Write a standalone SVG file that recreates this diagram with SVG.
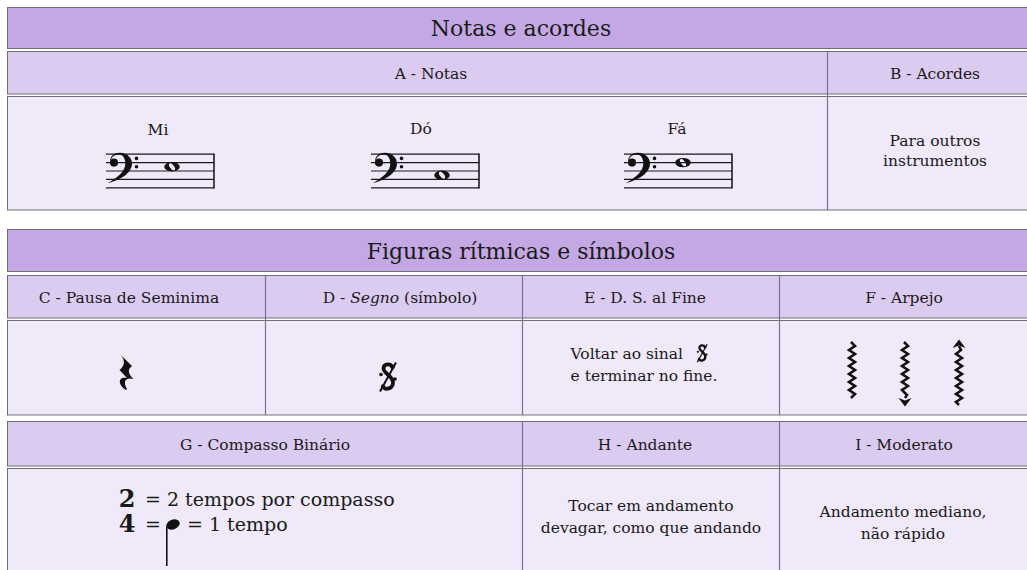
<svg xmlns="http://www.w3.org/2000/svg" width="1027" height="570" viewBox="0 0 1027 570">
<style>
  .hdr{fill:#c4a8e4;stroke:#6f6f78;stroke-width:1}
  .sub{fill:#dccbf0;stroke:#6f6f78;stroke-width:1}
  .cnt{fill:#efe9f9;stroke:#6f6f78;stroke-width:1}
  .div{stroke:#7e6f95;stroke-width:1.2}
  text{font-family:"DejaVu Serif","Liberation Serif",serif;fill:#1a1a1a}
  .t1{font-size:22px;text-anchor:middle}
  .t2{font-size:15.5px;text-anchor:middle}
  .t3{font-size:19px}
  .ts{font-size:24px;font-weight:bold;text-anchor:middle}
  .staff{stroke:#1a1a1a;stroke-width:1.2}
  .bar{stroke:#1a1a1a;stroke-width:1.6}
  .ink{fill:#111}
  .zig{fill:none;stroke:#111;stroke-width:2.6;stroke-linejoin:miter}
</style>
<defs>
  <g id="clef">
    <circle cx="7" cy="0" r="4.1" class="ink"/>
    <path class="ink" d="M3,-1 C3,-7 8,-10 13,-9.8 C20.5,-9.5 25,-4.5 25,1 C25,10.5 13.5,17.5 1,20.5 C10.5,15 18.3,9 18.3,1 C18.3,-5 15.5,-8.2 11.5,-8.2 C7,-8.2 4,-5 3,-1 Z"/>
    <circle cx="29.5" cy="-4.2" r="1.8" class="ink"/>
    <circle cx="29.5" cy="4.2" r="1.8" class="ink"/>
  </g>
  <g id="staff">
    <line class="staff" x1="0" y1="154.2" x2="108" y2="154.2"/>
    <line class="staff" x1="0" y1="162.6" x2="108" y2="162.6"/>
    <line class="staff" x1="0" y1="171" x2="108" y2="171"/>
    <line class="staff" x1="0" y1="179.4" x2="108" y2="179.4"/>
    <line class="staff" x1="0" y1="187.8" x2="108" y2="187.8"/>
    <line class="bar" x1="108" y1="153.6" x2="108" y2="188.4"/>
    <use href="#clef" x="1" y="162.6"/>
  </g>
  <path id="whole" class="ink" fill-rule="evenodd" d="M-7.8,0 A7.8,4.7 0 1,0 7.8,0 A7.8,4.7 0 1,0 -7.8,0 Z M1.15,-1.64 A2.0,3.4 -35 1,0 -1.15,1.64 A2.0,3.4 -35 1,0 1.15,-1.64 Z"/>
  <g id="segno">
    <path d="M14.5,5 C13,1.5 6,1 5.5,6 C5,11.5 15,13.5 15,20.5 C15,27 7,28.5 5,24.5" fill="none" stroke="#111" stroke-width="3.8"/>
    <circle cx="14.6" cy="5.2" r="2.1" class="ink"/>
    <circle cx="5" cy="24.4" r="2.1" class="ink"/>
    <line x1="2" y1="29.5" x2="18" y2="0.5" stroke="#111" stroke-width="2"/>
    <circle cx="3" cy="12.5" r="1.8" class="ink"/>
    <circle cx="17" cy="17" r="1.8" class="ink"/>
  </g>
</defs>

<g id="section-notas">
  <g id="hdr-notas">
    <rect class="hdr" x="7.5" y="7.5" width="1030" height="41"/>
    <text class="t1" x="521" y="36">Notas e acordes</text>
  </g>
  <g id="sub-notas">
    <rect class="sub" x="7.5" y="51.5" width="1030" height="42.5"/>
    <text class="t2" x="431" y="79">A - Notas</text>
    <text class="t2" x="935" y="79">B - Acordes</text>
  </g>
  <g id="cell-a">
    <rect class="cnt" x="7.5" y="96.5" width="1030" height="113.5"/>
    <text class="t2" x="158" y="135">Mi</text>
    <text class="t2" x="421" y="134">Dó</text>
    <text class="t2" x="677" y="134">Fá</text>
    <use href="#staff" x="106"/>
    <use href="#whole" x="172" y="166.8"/>
    <use href="#staff" x="371"/>
    <use href="#whole" x="442" y="175.2"/>
    <use href="#staff" x="624"/>
    <use href="#whole" x="683" y="162.6"/>
  </g>
  <g id="cell-b">
    <text class="t2" x="935" y="146">Para outros</text>
    <text class="t2" x="935" y="166">instrumentos</text>
  </g>
</g>

<g id="section-figuras">
  <g id="hdr-figuras">
    <rect class="hdr" x="7.5" y="229.5" width="1030" height="42"/>
    <text class="t1" x="521" y="259">Figuras rítmicas e símbolos</text>
  </g>
  <g id="row1">
    <rect class="sub" x="7.5" y="275.5" width="1030" height="42.5"/>
    <rect class="cnt" x="7.5" y="320.5" width="1030" height="94.5"/>
  </g>
  <g id="cell-c">
    <text class="t2" x="129" y="303">C - Pausa de Seminima</text>
    <path class="ink" transform="translate(117,355) scale(1.25,1)" d="M3,0 L12,11 C9,14 8,17 13,24 C8,22 4,25 8,34 L7,35 C0,29 1,21 8,23 L2,15 C6,11 7,6 3,0 Z"/>
  </g>
  <g id="cell-d">
    <text class="t2" x="400" y="303">D - <tspan font-style="italic">Segno</tspan> (símbolo)</text>
    <use href="#segno" transform="translate(378,362)"/>
  </g>
  <g id="cell-e">
    <text class="t2" x="645" y="303">E - D. S. al Fine</text>
    <text x="683" y="359" font-size="15.5" text-anchor="end">Voltar ao sinal</text>
    <use href="#segno" transform="translate(696,344) scale(0.62)"/>
    <text class="t2" x="644" y="381">e terminar no fine.</text>
  </g>
  <g id="cell-f">
    <text class="t2" x="904" y="303">F - Arpejo</text>
    <path class="zig" d="M851,342 L855,346 L849,350 L855,354 L849,358 L855,362 L849,366 L855,370 L849,374 L855,378 L849,382 L855,386 L849,390 L855,394 L851,398"/>
    <path class="zig" d="M904,342 L908,346 L902,350 L908,354 L902,358 L908,362 L902,366 L908,370 L902,374 L908,378 L902,382 L908,386 L902,390 L907,395 L905,398"/>
    <path class="ink" d="M905,406.5 L898.5,398 L905,400.5 L911.5,398 Z"/>
    <path class="ink" d="M959,339.5 L952.5,348 L959,345.5 L965.5,348 Z"/>
    <path class="zig" d="M959,346 L961,350 L956,354 L962,358 L956,362 L962,366 L956,370 L962,374 L956,378 L962,382 L956,386 L962,390 L956,394 L962,398 L956,402 L959,405"/>
  </g>
  <g id="row2">
    <rect class="sub" x="7.5" y="421.5" width="1030" height="44.5"/>
    <rect class="cnt" x="7.5" y="468.5" width="1030" height="110"/>
  </g>
  <g id="cell-g">
    <text class="t2" x="265" y="449.5">G - Compasso Binário</text>
    <text class="ts" x="127" y="507">2</text>
    <text class="ts" x="127" y="532">4</text>
    <text class="t3" x="145" y="506">= 2 tempos por compasso</text>
    <text class="t3" x="145" y="531">=</text>
    <ellipse class="ink" cx="173" cy="524.5" rx="7" ry="4.9" transform="rotate(-22 173 524.5)"/>
    <line x1="166.8" y1="526" x2="166.8" y2="566" stroke="#111" stroke-width="1.6"/>
    <text class="t3" x="187" y="531">= 1 tempo</text>
  </g>
  <g id="cell-h">
    <text class="t2" x="645" y="449.5">H - Andante</text>
    <text class="t2" x="651" y="511">Tocar em andamento</text>
    <text class="t2" x="651" y="533">devagar, como que andando</text>
  </g>
  <g id="cell-i">
    <text class="t2" x="904" y="449.5">I - Moderato</text>
    <text class="t2" x="903" y="517">Andamento mediano,</text>
    <text class="t2" x="903" y="539">não rápido</text>
  </g>
</g>

<g id="connectors">
  <line class="div" x1="827.5" y1="52" x2="827.5" y2="210"/>
  <line class="div" x1="265.5" y1="276" x2="265.5" y2="415"/>
  <line class="div" x1="522.5" y1="276" x2="522.5" y2="415"/>
  <line class="div" x1="779.5" y1="276" x2="779.5" y2="415"/>
  <line class="div" x1="522.5" y1="422" x2="522.5" y2="570"/>
  <line class="div" x1="779.5" y1="422" x2="779.5" y2="570"/>
</g>
</svg>
